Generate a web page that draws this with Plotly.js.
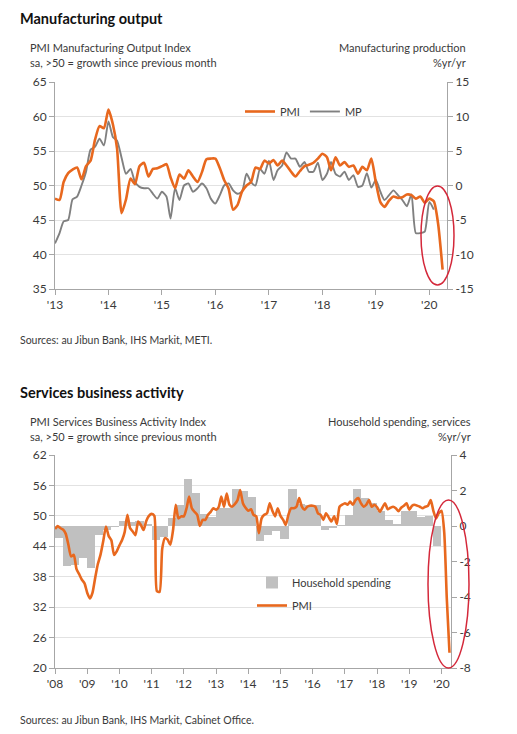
<!DOCTYPE html>
<html>
<head>
<meta charset="utf-8">
<script src="https://cdn.plot.ly/plotly-3.0.1.min.js"></script>
<style>
  html, body { margin: 0; padding: 0; background: #ffffff; }
  #chart { width: 517px; height: 734px; }
</style>
</head>
<body>
<div id="chart"></div>
<script>
// ---------------- DATA ----------------
// Top chart: monthly, Jan 2013 - Apr 2020
const mfgStart = 2013;
const mfgPMI = [
  48.1, 47.9, 50.5, 51.8, 52.3, 52.6, 50.9, 52.8, 53.6, 56.6, 58.6, 58.3,
  61.0, 58.8, 55.3, 46.0, 48.0, 51.0, 50.2, 52.8, 53.3, 51.3, 52.4, 52.5,
  52.8, 53.1, 51.2, 49.6, 51.6, 51.0, 52.2, 51.3, 50.5, 51.9, 53.8, 53.9,
  53.9, 52.5, 50.8, 49.5, 46.5, 47.2, 49.1, 50.0, 50.5, 52.6, 52.4, 53.6,
  53.2, 53.7, 52.9, 53.6, 52.9, 52.0, 51.3, 52.1, 52.8, 53.0, 53.3, 53.9,
  54.6, 54.1, 52.2, 54.1, 52.9, 53.4, 52.7, 52.9, 51.7, 52.7, 52.2, 53.9,
  50.5, 47.6, 46.9, 47.8, 48.4, 48.2, 48.3, 48.7, 48.6, 48.1, 48.4, 47.5,
  48.1, 47.7, 44.5, 37.8
];
const mfgMP = [
  -8.4, -6.9, -5.2, -5.0, -2.0, -1.6, 0.0, 2.0, 5.2, 5.6, 6.8, 5.8,
  9.3, 7.0, 6.5, 4.0, 1.7, 2.4, 0.5, -0.2, -0.4, -0.4, -1.2, -1.9,
  -0.9, -1.6, -4.8, -0.4, -2.1, 0.0, 0.3, -0.9, -0.4, 0.3, -0.4, -1.9,
  -2.6, -1.4, 0.0, 0.3, -0.7, -1.2, -0.9, 1.7, 0.5, 0.0, 2.4, 1.7,
  3.6, 0.8, 2.2, 2.9, 4.8, 3.9, 3.9, 2.7, 3.4, 2.0, 2.0, 3.3,
  0.8, 1.7, 3.4, 1.7, 1.3, 2.0, 0.8, 1.5, -0.2, 0.0, 1.8, -0.3,
  0.8, -0.9, -2.1, -1.4, -0.7, -1.4, -2.1, -3.0, -1.3, -6.9, -6.9, -6.7,
  -2.4, -3.5
];
const mfgYears = [2013, 2014, 2015, 2016, 2017, 2018, 2019, 2020];
const mfgTickText = ["'13", "'14", "'15", "'16", "'17", "'18", "'19", "'20"];

// Bottom chart: monthly services PMI, Jan 2008 - Apr 2020
const svcStart = 2008;
const svcPMI = [
  47.4, 48.0, 47.6, 47.3, 46.5, 44.3, 42.0, 42.3, 39.5, 38.5, 37.4, 36.7,
  34.8, 33.7, 34.8, 37.8, 40.5, 42.4, 45.0, 47.9, 46.0, 45.2, 42.3, 43.0,
  44.2, 45.3, 46.8, 50.2, 47.6, 46.9, 46.2, 48.9, 48.2, 47.2, 49.0, 50.0,
  50.4, 50.0, 35.2, 35.0, 43.5, 45.6, 45.3, 44.3, 47.2, 52.2, 49.5, 49.9,
  49.9, 51.5, 53.8, 51.5, 50.8, 50.2, 48.0, 49.2, 49.2, 50.2, 50.8, 51.5,
  51.2, 51.8, 53.8, 51.8, 54.4, 52.2, 51.8, 52.3, 53.1, 55.1, 52.5, 51.6,
  51.0, 51.3, 50.2, 49.9, 46.6, 49.5, 50.2, 50.5, 52.5, 51.0, 49.9, 51.5,
  50.0, 49.2, 48.2, 50.2, 51.5, 51.5, 51.8, 53.5, 51.8, 51.2, 51.8, 52.0,
  52.0, 51.8, 50.5, 50.2, 49.2, 50.5, 49.7, 48.9, 49.9, 48.4, 51.8, 52.2,
  52.5, 52.2, 52.8, 52.2, 53.1, 53.5, 52.5, 51.8, 52.2, 53.1, 51.8, 52.2,
  51.7, 50.8, 51.6, 52.5, 51.3, 51.6, 51.8, 51.5, 50.9, 51.6, 52.0, 52.5,
  51.2, 52.0, 52.2, 52.0, 51.8, 51.5, 51.8, 52.0, 53.1, 51.0, 49.5, 50.5,
  51.0, 46.8, 33.8, 23.0
];
// Household spending, services, %yr/yr, quarterly Q1 2008 - Q4 2019
const hhSpending = [
  -0.65, -2.25, -2.2, -1.8,
  -2.35, -0.5, -0.2, -0.05,
  0.3, 0.2, 0.3, 0.1,
  -0.8, -0.6, 0.45, 1.2,
  2.66, 1.84, 0.7, 0.5,
  1.0, 1.0, 2.1, 2.0,
  1.65, -0.85, -0.53, -0.3,
  -0.75, 2.1, 1.25, 1.2,
  1.2, -0.2, -0.1, 0.05,
  0.6, 2.06, 1.55, 1.3,
  0.85, 0.35, 0.1, 0.85,
  0.85, 0.5, 0.55, -1.1
];
const svcYears = [2008, 2009, 2010, 2011, 2012, 2013, 2014, 2015, 2016, 2017, 2018, 2019, 2020];
const svcTickText = ["'08", "'09", "'10", "'11", "'12", "'13", "'14", "'15", "'16", "'17", "'18", "'19", "'20"];
const rightTicks2 = [-8, -6, -4, -2, 0, 2, 4];
const rightTicks1 = [-15, -10, -5, 0, 5, 10, 15];

// ---------------- HELPERS ----------------
function monthDates(y0, n) {
  const out = [];
  for (let i = 0; i < n; i++) {
    const y = y0 + Math.floor(i / 12), m = (i % 12) + 1;
    out.push(y + '-' + String(m).padStart(2, '0') + '-01');
  }
  return out;
}
function quarterDates(y0, n) {
  const out = [];
  for (let i = 0; i < n; i++) {
    const y = y0 + Math.floor(i / 4), m = (i % 4) * 3 + 1;
    out.push(y + '-' + String(m).padStart(2, '0') + '-01');
  }
  return out;
}
const W = 517, H = 734;
const X = p => p / W;
const Y = p => 1 - p / H;

const FONT = 'Lato, "Open Sans", sans-serif';
const TXT = '#3a3a3a';
const ORANGE = '#e8681e';
const GREY = '#808080';
const BARGREY = '#c0c0c0';
const AXIS = '#a6a6a6';
const GRID = '#e2e2e2';

const mfgX = monthDates(mfgStart, mfgPMI.length);
const mpX = monthDates(mfgStart, mfgMP.length);
const svcX = monthDates(svcStart, svcPMI.length);
const hhX = quarterDates(svcStart, hhSpending.length);
const DAY = 86400000;

// ---------------- TRACES ----------------
const traces = [
  {
    type: 'scatter', mode: 'lines', name: 'PMI',
    x: mfgX, y: mfgPMI, xaxis: 'x', yaxis: 'y',
    line: { color: ORANGE, width: 2.6, shape: 'spline', smoothing: 0.6 },
    legend: 'legend', hoverinfo: 'x+y'
  },
  {
    type: 'scatter', mode: 'lines', name: 'MP',
    x: mpX, y: mfgMP, xaxis: 'x', yaxis: 'y2',
    line: { color: GREY, width: 1.9, shape: 'spline', smoothing: 0.6 },
    legend: 'legend', hoverinfo: 'x+y'
  },
  {
    type: 'bar', name: 'Household spending',
    x: hhX, y: hhSpending, xaxis: 'x2', yaxis: 'y4',
    width: 92 * DAY, offset: 0,
    marker: { color: BARGREY, line: { width: 0 } },
    legend: 'legend2', legendgroup: 'hh'
  },
  {
    type: 'scatter', mode: 'lines', name: 'PMI',
    x: svcX, y: svcPMI, xaxis: 'x2', yaxis: 'y3',
    line: { color: ORANGE, width: 2.6, shape: 'spline', smoothing: 0.6 },
    legend: 'legend2', legendgroup: 'pmi'
  }
];

// ---------------- LAYOUT ----------------
const tickFont = { family: FONT, size: 12, color: TXT };
const commonY = {
  showline: true, linecolor: AXIS, linewidth: 1,
  ticks: 'outside', ticklen: 5, tickcolor: AXIS,
  tickfont: tickFont, zeroline: false, fixedrange: true
};

function ann(text, x, y, opts) {
  return Object.assign({
    text: text, xref: 'paper', yref: 'paper', x: X(x), y: Y(y),
    xanchor: 'left', yanchor: 'middle', showarrow: false,
    font: { family: FONT, size: 11, color: TXT }
  }, opts || {});
}

const layout = {
  width: W, height: H,
  margin: { l: 0, r: 0, t: 0, b: 0, pad: 0 },
  paper_bgcolor: '#ffffff', plot_bgcolor: 'rgba(0,0,0,0)',
  font: { family: FONT, color: TXT },
  bargap: 0,
  // ----- top chart -----
  xaxis: {
    type: 'date', domain: [X(55), X(447)], anchor: 'y2',
    range: ['2013-01-01', '2020-05-01'],
    tickvals: mfgYears.map(y => y + '-01-01'), ticktext: mfgTickText,
    showline: true, linecolor: AXIS, ticks: 'outside', ticklen: 5, tickcolor: AXIS,
    showgrid: false, tickfont: tickFont, fixedrange: true
  },
  yaxis2: Object.assign({}, commonY, {
    domain: [Y(289), Y(82)], anchor: 'x', side: 'right',
    range: [-15, 15], tickvals: rightTicks1, ticktext: rightTicks1.map(String),
    showgrid: false
  }),
  yaxis: Object.assign({}, commonY, {
    overlaying: 'y2', side: 'left', anchor: 'x',
    range: [35, 65], dtick: 5, tick0: 35,
    showgrid: true, gridcolor: GRID, gridwidth: 1
  }),
  // ----- bottom chart -----
  xaxis2: {
    type: 'date', domain: [X(55), X(451)], anchor: 'y4',
    range: ['2008-01-01', '2020-04-18'],
    tickvals: svcYears.map(y => y + '-01-01'), ticktext: svcTickText,
    showline: true, linecolor: AXIS, ticks: 'outside', ticklen: 5, tickcolor: AXIS,
    showgrid: false, tickfont: tickFont, fixedrange: true
  },
  yaxis4: Object.assign({}, commonY, {
    domain: [Y(668), Y(455)], anchor: 'x2', side: 'right',
    range: [-8, 4], tickvals: rightTicks2, ticktext: rightTicks2.map(String),
    showgrid: false
  }),
  yaxis3: Object.assign({}, commonY, {
    overlaying: 'y4', side: 'left', anchor: 'x2',
    range: [20, 62], dtick: 6, tick0: 20,
    showgrid: true, gridcolor: GRID, gridwidth: 1
  }),
  legend: {
    x: X(240), y: Y(97), xanchor: 'left', yanchor: 'top',
    orientation: 'h', bgcolor: 'rgba(0,0,0,0)', borderwidth: 0,
    font: { family: FONT, size: 11, color: TXT }, itemwidth: 30
  },
  legend2: {
    x: X(252), y: Y(568), xanchor: 'left', yanchor: 'top',
    orientation: 'v', bgcolor: 'rgba(0,0,0,0)', borderwidth: 0,
    traceorder: 'grouped', tracegroupgap: 4,
    font: { family: FONT, size: 11, color: TXT }, itemwidth: 30
  },
  annotations: [
    ann('<b>Manufacturing output</b>', 18, 19, { font: { family: FONT, size: 14.5, color: '#111' } }),
    ann('PMI Manufacturing Output Index', 28, 48),
    ann('sa, >50 = growth since previous month', 28, 62),
    ann('Manufacturing production', 468, 48, { xanchor: 'right' }),
    ann('%yr/yr', 468, 62, { xanchor: 'right' }),
    ann('Sources: au Jibun Bank, IHS Markit, METI.', 18, 340, { font: { family: FONT, size: 10.5, color: TXT } }),
    ann('<b>Services business activity</b>', 18, 392, { font: { family: FONT, size: 14.5, color: '#111' } }),
    ann('PMI Services Business Activity Index', 28, 421),
    ann('sa, >50 = growth since previous month', 28, 436),
    ann('Household spending, services', 473, 421, { xanchor: 'right' }),
    ann('%yr/yr', 473, 436, { xanchor: 'right' }),
    ann('Sources: au Jibun Bank, IHS Markit, Cabinet Office.', 18, 720, { font: { family: FONT, size: 10.5, color: TXT } })
  ],
  shapes: [
    { type: 'circle', xref: 'paper', yref: 'paper',
      x0: X(421), x1: X(454), y0: Y(285), y1: Y(186),
      line: { color: '#d4283a', width: 1.5 } },
    { type: 'circle', xref: 'paper', yref: 'paper',
      x0: X(428), x1: X(469), y0: Y(668), y1: Y(500),
      line: { color: '#d4283a', width: 1.5 } }
  ]
};

Plotly.newPlot('chart', traces, layout, { displayModeBar: false, staticPlot: true });
</script>
</body>
</html>
